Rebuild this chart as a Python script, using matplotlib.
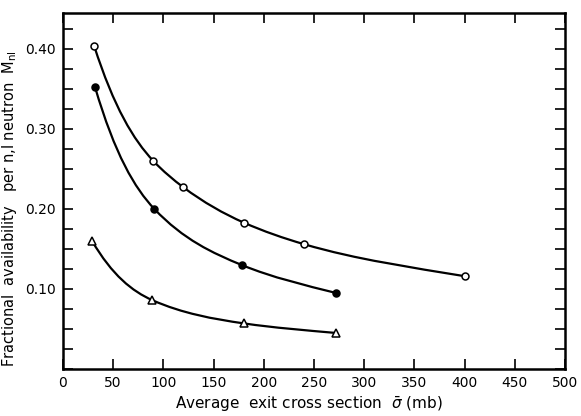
#!/usr/bin/env python
"""
Fractional availability per n,l neutron versus average exit cross section.
"""

import numpy as np
import matplotlib
matplotlib.use("Agg")
import matplotlib.pyplot as plt
from matplotlib.path import Path
from matplotlib.patches import PathPatch
from matplotlib.ticker import MultipleLocator, FixedLocator

# data for the three curves (cross section in mb, availability)
open_x = [31, 90, 120, 180, 240, 400]
open_y = [0.404, 0.260, 0.227, 0.183, 0.156, 0.116]

filled_x = [32, 91, 178, 272]
filled_y = [0.352, 0.200, 0.130, 0.095]

tri_x = [29, 89, 180, 272]
tri_y = [0.160, 0.086, 0.057, 0.045]

X_TICKS = list(range(0, 501, 50))
Y_TICKS = [0.10, 0.20, 0.30, 0.40]
Y_LABELS = ["0.10", "0.20", "0.30", "0.40"]


def smooth_path(xs, ys):
    """Cubic Hermite path y(x); slopes taken from a local power law."""
    x = np.asarray(xs, float)
    y = np.asarray(ys, float)
    lx, ly = np.log(x), np.log(y)
    dl = np.diff(lx)
    k_seg = np.diff(ly) / dl
    k = np.empty_like(x)
    k[0], k[-1] = k_seg[0], k_seg[-1]
    for i in range(1, len(x) - 1):
        k[i] = (dl[i] * k_seg[i - 1] + dl[i - 1] * k_seg[i]) / (dl[i - 1] + dl[i])
    m = k * y / x
    # ends: halfway between the power-law slope and the straight chord
    chord = np.diff(y) / np.diff(x)
    m[0] = 0.5 * (m[0] + chord[0])
    m[-1] = 0.5 * (m[-1] + chord[-1])

    verts = [(x[0], y[0])]
    codes = [Path.MOVETO]
    for i in range(len(x) - 1):
        h = x[i + 1] - x[i]
        verts += [(x[i] + h / 3, y[i] + m[i] * h / 3),
                  (x[i + 1] - h / 3, y[i + 1] - m[i + 1] * h / 3),
                  (x[i + 1], y[i + 1])]
        codes += [Path.CURVE4] * 3
    return Path(verts, codes)


fig = plt.figure(figsize=(5.81, 4.16), dpi=100)
ax = fig.add_axes([0.1084, 0.113, 0.864, 0.856])

for xs, ys, marker, face, ms in [
    (open_x, open_y, "o", "white", 5),
    (filled_x, filled_y, "o", "black", 5),
    (tri_x, tri_y, "^", "white", 6),
]:
    ax.add_patch(PathPatch(smooth_path(xs, ys), facecolor="none",
                           edgecolor="black", lw=1.6, zorder=2))
    ax.plot(xs, ys, linestyle="none", marker=marker, ms=ms,
            mfc=face, mec="black", mew=1.1, zorder=3)

ax.set_xlim(0, 500)
ax.set_ylim(0, 0.445)

ax.xaxis.set_major_locator(FixedLocator(X_TICKS))
ax.set_xticklabels([str(t) for t in X_TICKS])
ax.yaxis.set_major_locator(FixedLocator(Y_TICKS))
ax.set_yticklabels(Y_LABELS)
ax.yaxis.set_minor_locator(MultipleLocator(0.025))

ax.tick_params(which="both", direction="in", length=7, width=1.2,
               top=True, right=True, labelsize=10)
ax.tick_params(axis="x", pad=5)
ax.tick_params(axis="y", pad=5)
for spine in ax.spines.values():
    spine.set_linewidth(1.8)

ax.set_xlabel(r"Average  exit cross section  $\bar{\sigma}$ (mb)",
              fontsize=11)
ax.xaxis.set_label_coords(0.49, -0.072)
ax.set_ylabel(r"Fractional  availability   per n,l neutron  M$_{\rm nl}$",
              fontsize=10.5)
ax.yaxis.set_label_coords(-0.087, 0.45)

plt.savefig("out.png", dpi=100)
